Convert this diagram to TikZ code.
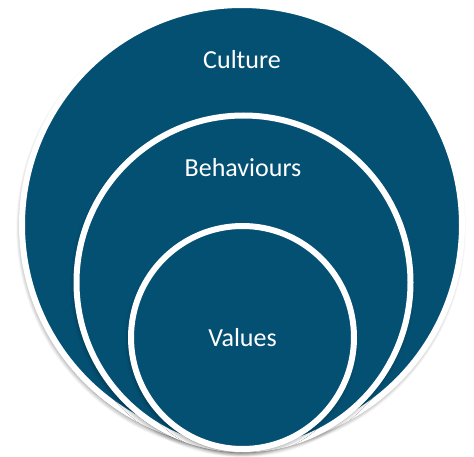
\documentclass[tikz,border=0pt]{standalone}
\usepackage{fontspec}
\setmainfont{Carlito}
\usepackage{xcolor}
\usepackage{tikz}
\usetikzlibrary{shadows.blur}
\definecolor{ringcol}{RGB}{4,80,115}

\begin{document}
\begin{tikzpicture}[x=1pt, y=-1pt]
\useasboundingbox (0,0) rectangle (474,457);
\tikzset{
  ring/.style={circle, draw=white, line width=6pt, fill=ringcol, inner sep=0pt,
    blur shadow={shadow xshift=-1pt, shadow yshift=-3pt, shadow blur steps=10,
      shadow blur radius=5pt, shadow opacity=55}},
  lbl/.style={text=white, font=\fontsize{26}{30}\selectfont}
}
% nested rings, all touching near the bottom
\node[ring, minimum size=440pt] (culture) at (242,225) {};
\node[ring, minimum size=334pt] (behaviours) at (243.5,282.5) {};
\node[ring, minimum size=223pt] (values) at (242.5,337.5) {};
% labels
\node[lbl] (culturetxt) at (242,60) {Culture};
\node[lbl] (behaviourstxt) at (243,168) {Behaviours};
\node[lbl] (valuestxt) at (values.center) {Values};
\end{tikzpicture}
\end{document}
